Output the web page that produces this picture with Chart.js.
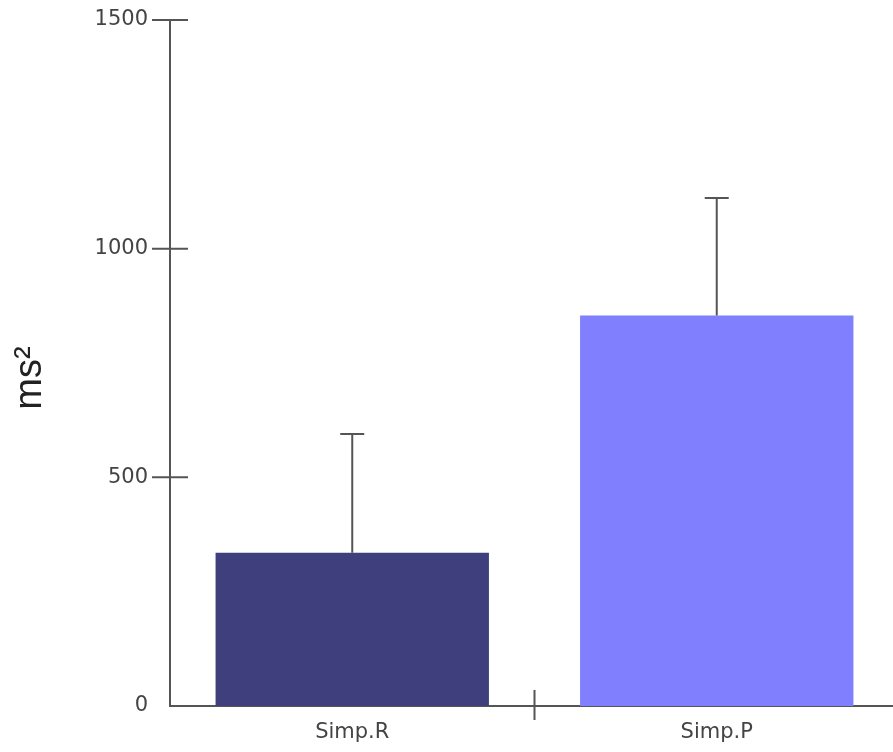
<!DOCTYPE html>
<html>
<head>
<meta charset="utf-8">
<script src="https://cdn.jsdelivr.net/npm/chart.js@4"></script>
<style>
  html, body { margin: 0; padding: 0; background: #fff; overflow: hidden; }
  #wrap { width: 899px; height: 752px; }
</style>
</head>
<body>
<div id="wrap"><canvas id="barChart"></canvas></div>
<script>
const categories = ['Simp.R', 'Simp.P'];
const means = [335, 854];
const errors = [260, 257];
const barColors = ['#3f3f7d', '#8080ff'];
const yTicks = [0, 500, 1000, 1500];
const yTitle = 'ms²';

const axisColor = '#555';
const labelFont = { family: 'DejaVu Sans', size: 21 };

// upward-only error bars with a short cap
const errorBars = {
  id: 'errorBars',
  afterDatasetsDraw(chart) {
    const { ctx, scales: { x, y } } = chart;
    ctx.save();
    ctx.strokeStyle = axisColor;
    ctx.lineWidth = 2;
    means.forEach((m, i) => {
      const cx = x.getPixelForValue(i);
      const y0 = y.getPixelForValue(m);
      const y1 = y.getPixelForValue(m + errors[i]);
      ctx.beginPath();
      ctx.moveTo(cx, y0);
      ctx.lineTo(cx, y1);
      ctx.moveTo(cx - 12, y1);
      ctx.lineTo(cx + 12, y1);
      ctx.stroke();
    });
    ctx.restore();
  }
};

// tick marks that cross the axis lines, plus the rotated y title
const crossTicks = {
  id: 'crossTicks',
  afterDraw(chart) {
    const { ctx, chartArea, scales: { x, y } } = chart;
    ctx.save();
    ctx.strokeStyle = axisColor;
    ctx.lineWidth = 2;
    ctx.beginPath();
    yTicks.filter(v => v > 0).forEach(v => {
      const py = y.getPixelForValue(v);
      ctx.moveTo(chartArea.left - 18, py);
      ctx.lineTo(chartArea.left + 18, py);
    });
    for (let i = 0; i < categories.length - 1; i++) {
      const px = (x.getPixelForValue(i) + x.getPixelForValue(i + 1)) / 2;
      ctx.moveTo(px, chartArea.bottom - 16);
      ctx.lineTo(px, chartArea.bottom + 14);
    }
    ctx.stroke();

    ctx.translate(31, (chartArea.top + chartArea.bottom) / 2 + 15);
    ctx.rotate(-Math.PI / 2);
    ctx.fillStyle = '#222';
    ctx.font = '38px "Liberation Sans"';
    ctx.textAlign = 'center';
    ctx.textBaseline = 'middle';
    ctx.fillText(yTitle, 0, 0);
    ctx.restore();
  }
};

new Chart(document.getElementById('barChart'), {
  type: 'bar',
  data: {
    labels: categories,
    datasets: [{
      data: means,
      backgroundColor: barColors,
      borderWidth: 0,
      barPercentage: 0.75,
      categoryPercentage: 1.0
    }]
  },
  options: {
    responsive: true,
    maintainAspectRatio: false,
    animation: false,
    layout: { padding: { top: 20, right: 0, bottom: 0, left: 0 } },
    plugins: {
      legend: { display: false },
      tooltip: { enabled: false }
    },
    scales: {
      x: {
        grid: { display: false, drawTicks: false },
        border: { color: axisColor, width: 2 },
        ticks: { color: '#444', font: labelFont, padding: 14 },
        afterFit(s) { s.height = 46; }
      },
      y: {
        min: 0,
        max: 1500,
        afterBuildTicks(s) { s.ticks = yTicks.map(v => ({ value: v })); },
        grid: { display: false, drawTicks: false },
        border: { color: axisColor, width: 2 },
        ticks: { color: '#444', font: labelFont, padding: 22, callback: v => String(v) },
        afterFit(s) {
          s.width = 170;
          s.paddingTop = 0;
          s.paddingBottom = 0;
        }
      }
    }
  },
  plugins: [errorBars, crossTicks]
});
</script>
</body>
</html>
